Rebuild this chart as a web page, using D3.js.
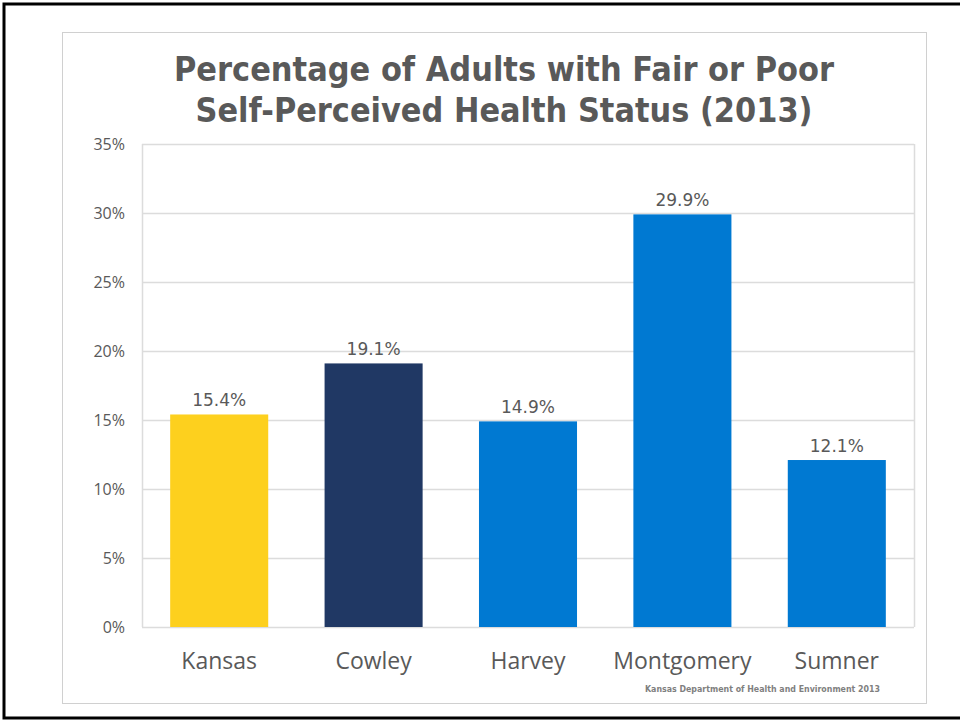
<!DOCTYPE html>
<html>
<head>
<meta charset="utf-8">
<script src="https://cdn.jsdelivr.net/npm/d3@7"></script>
<style>
  html, body { margin: 0; padding: 0; background: #fff; }
  svg { display: block; }
</style>
</head>
<body>
<svg id="chart" width="960" height="721"></svg>
<script>
// chart data
var counties = ["Kansas", "Cowley", "Harvey", "Montgomery", "Sumner"];
var percents = [15.4, 19.1, 14.9, 29.9, 12.1];
var barColors = ["#fdd01e", "#203864", "#0079d2", "#0079d2", "#0079d2"];
var yTicks = [0, 5, 10, 15, 20, 25, 30, 35];
var titleLines = ["Percentage of Adults with Fair or Poor", "Self-Perceived Health Status (2013)"];
var sourceNote = "Kansas Department of Health and Environment 2013";

var svg = d3.select("#chart");
var grey = "#595959";

// page frame (black, open on the right)
svg.append("path")
    .attr("d", "M962,4 H4 V718 H962")
    .style("fill", "none")
    .style("stroke", "#000")
    .style("stroke-width", 3);

// chart frame
svg.append("rect")
    .attr("x", 62.5).attr("y", 32.5)
    .attr("width", 864).attr("height", 671)
    .style("fill", "#fff")
    .style("stroke", "#d0d0d0");

var plot = { left: 142, top: 144, right: 914, bottom: 627 };

var x = d3.scaleBand()
    .domain(counties)
    .range([plot.left, plot.right])
    .paddingInner(0.365)
    .paddingOuter(0.1825);

var y = d3.scaleLinear()
    .domain([0, 35])
    .range([plot.bottom, plot.top]);

// gridlines
svg.append("g")
    .selectAll("line")
    .data(yTicks)
    .enter()
    .append("line")
    .attr("x1", plot.left).attr("x2", plot.right)
    .attr("y1", function(d) { return Math.round(y(d)) + 0.5; })
    .attr("y2", function(d) { return Math.round(y(d)) + 0.5; })
    .style("stroke", "#dcdcdc")
    .style("stroke-width", 1.5);

// plot area sides
svg.append("g")
    .selectAll("line")
    .data([plot.left, plot.right])
    .enter()
    .append("line")
    .attr("x1", function(d) { return d + 0.5; })
    .attr("x2", function(d) { return d + 0.5; })
    .attr("y1", plot.top).attr("y2", plot.bottom)
    .style("stroke", "#dcdcdc")
    .style("stroke-width", 1.5);

// y axis labels
var yAxis = d3.axisLeft(y)
    .tickValues(yTicks)
    .tickSize(0)
    .tickPadding(17)
    .tickFormat(function(d) { return d + "%"; });

var yg = svg.append("g")
    .attr("transform", "translate(" + plot.left + ",0)")
    .call(yAxis);
yg.select(".domain").remove();
yg.selectAll("text")
    .style("font-family", "'Open Sans', sans-serif")
    .style("font-size", "16px")
    .style("fill", grey);

// bars
svg.append("g")
    .selectAll("rect")
    .data(counties)
    .enter()
    .append("rect")
    .attr("x", function(d) { return x(d); })
    .attr("width", x.bandwidth())
    .attr("y", function(d, i) { return y(percents[i]); })
    .attr("height", function(d, i) { return y(0) - y(percents[i]); })
    .style("fill", function(d, i) { return barColors[i]; });

// value labels
svg.append("g")
    .selectAll("text")
    .data(counties)
    .enter()
    .append("text")
    .attr("x", function(d) { return x(d) + x.bandwidth() / 2; })
    .attr("y", function(d, i) { return y(percents[i]) - 8; })
    .attr("text-anchor", "middle")
    .style("font-family", "'DejaVu Sans', sans-serif")
    .style("font-size", "17px")
    .style("fill", grey)
    .text(function(d, i) { return percents[i].toFixed(1) + "%"; });

// category labels
var xAxis = d3.axisBottom(x).tickSize(0).tickPadding(26);
var xg = svg.append("g")
    .attr("transform", "translate(0," + plot.bottom + ")")
    .call(xAxis);
xg.select(".domain").remove();
xg.selectAll("text")
    .style("font-family", "'Open Sans', sans-serif")
    .style("font-size", "23px")
    .style("fill", grey);

// title
svg.append("g")
    .selectAll("text")
    .data(titleLines)
    .enter()
    .append("text")
    .attr("x", 504)
    .attr("y", function(d, i) { return 81 + i * 41; })
    .attr("text-anchor", "middle")
    .attr("textLength", function(d, i) { return i === 0 ? 660 : 617; })
    .attr("lengthAdjust", "spacingAndGlyphs")
    .style("font-family", "'DejaVu Sans', sans-serif")
    .style("font-weight", "bold")
    .style("font-size", "34px")
    .style("fill", grey)
    .text(function(d) { return d; });

// source note
svg.append("text")
    .attr("x", 880)
    .attr("y", 692)
    .attr("text-anchor", "end")
    .attr("textLength", 235)
    .attr("lengthAdjust", "spacingAndGlyphs")
    .style("font-family", "'DejaVu Sans', sans-serif")
    .style("font-weight", "bold")
    .style("font-size", "9px")
    .style("fill", "#7f7f7f")
    .text(sourceNote);
</script>
</body>
</html>
